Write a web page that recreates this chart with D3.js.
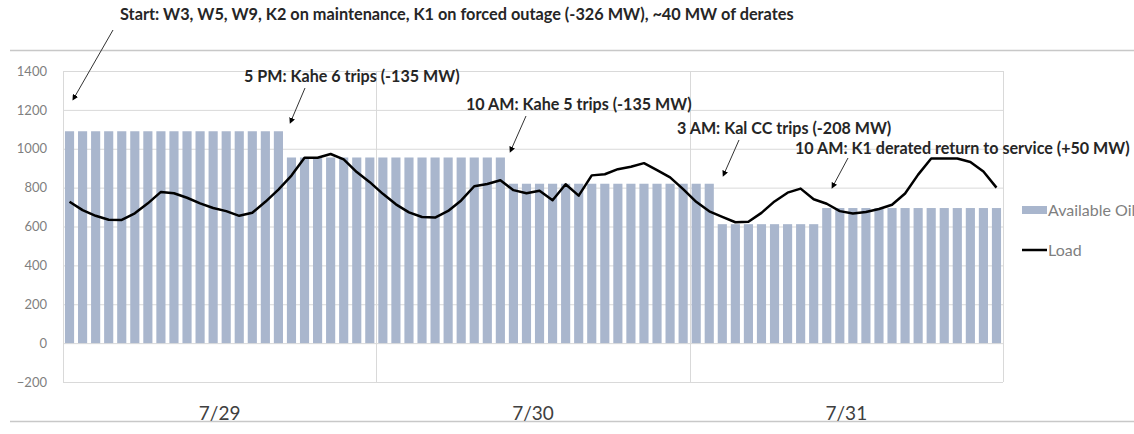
<!DOCTYPE html>
<html>
<head>
<meta charset="utf-8">
<script src="https://cdn.jsdelivr.net/npm/d3@7"></script>
<style>
  html, body { margin: 0; padding: 0; background: #fff; }
  svg { display: block; font-family: Lato, "Open Sans", sans-serif; }
</style>
</head>
<body>
<svg id="chart" width="1134" height="434"></svg>
<script>
// ---- data ----
const days = ["7/29", "7/30", "7/31"];
const hours = d3.range(72);
const availableOil = [
  1090,1090,1090,1090,1090,1090,1090,1090,1090,1090,1090,1090,1090,1090,1090,1090,1090,
  955,955,955,955,955,955,955,955,955,955,955,955,955,955,955,955,955,
  820,820,820,820,820,820,820,820,820,820,820,820,820,820,820,820,
  612,612,612,612,612,612,612,612,
  695,695,695,695,695,695,695,695,695,695,695,695,695,695
];
const load = [
  727,684,655,635,634,668,719,778,771,748,719,695,679,655,671,727,790,862,954,954,973,945,880,828,
  768,714,673,649,646,680,734,807,819,838,787,771,784,735,817,759,863,869,895,907,926,890,853,792,
  727,678,650,622,624,670,729,774,795,740,717,679,667,675,690,712,770,867,950,950,950,932,883,800
];
const yTicks = [-200, 0, 200, 400, 600, 800, 1000, 1200, 1400];
const seriesNames = ["Available Oil", "Load"];
const title = "Start: W3, W5, W9, K2 on maintenance, K1 on forced outage (-326 MW), ~40 MW of derates";
const annotations = [
  { text: "5 PM: Kahe 6 trips (-135 MW)", x: 244, y: 76, from: [305, 88], to: [291, 121] },
  { text: "10 AM: Kahe 5 trips (-135 MW)", x: 466, y: 104, from: [526, 116], to: [511, 150] },
  { text: "3 AM: Kal CC trips (-208 MW)", x: 677, y: 128, from: [739, 140], to: [724, 174] },
  { text: "10 AM: K1 derated return to service (+50 MW)", x: 795, y: 148, from: [848, 158], to: [833, 186] }
];

// ---- layout ----
const svg = d3.select("#chart");
const plot = { left: 63, right: 1003, top: 71, bottom: 382 };

const x = d3.scaleBand().domain(hours).range([plot.left, plot.right]).paddingInner(0.3).paddingOuter(0.15);
const xDay = d3.scaleBand().domain(days).range([plot.left, plot.right]);
const y = d3.scaleLinear().domain([-200, 1400]).range([plot.bottom, plot.top]);

const gridColor = "#d9d9d9";

// horizontal gridlines
svg.append("g")
  .attr("transform", `translate(${plot.left},0)`)
  .call(d3.axisLeft(y).tickValues(yTicks).tickSize(-(plot.right - plot.left)).tickFormat(""))
  .call(g => g.select(".domain").remove())
  .call(g => g.selectAll("line").attr("stroke", gridColor).attr("stroke-width", 1));

// vertical gridlines at day boundaries
svg.append("g")
  .selectAll("line")
  .data(days.concat(["end"]))
  .join("line")
  .attr("x1", (d, i) => i < days.length ? Math.round(xDay(d)) + 0.5 : plot.right + 0.5)
  .attr("x2", (d, i) => i < days.length ? Math.round(xDay(d)) + 0.5 : plot.right + 0.5)
  .attr("y1", plot.top)
  .attr("y2", plot.bottom)
  .attr("stroke", gridColor)
  .attr("stroke-width", 1);

// y tick labels
svg.append("g")
  .attr("transform", `translate(47,0)`)
  .call(d3.axisLeft(y).tickValues(yTicks).tickSize(0).tickPadding(0).tickFormat(d3.format("d")))
  .call(g => g.select(".domain").remove())
  .call(g => g.selectAll("text")
    .attr("fill", "#7f7f7f")
    .style("font-family", "Lato, sans-serif")
    .style("font-size", "13px"));

// bars
svg.append("g")
  .selectAll("rect")
  .data(hours)
  .join("rect")
  .attr("x", i => x(i))
  .attr("width", x.bandwidth())
  .attr("y", i => y(availableOil[i]))
  .attr("height", i => y(0) - y(availableOil[i]))
  .attr("fill", "#a9b6cd");

// load line
svg.append("path")
  .datum(hours)
  .attr("fill", "none")
  .attr("stroke", "#000")
  .attr("stroke-width", 2.5)
  .attr("stroke-linejoin", "round")
  .attr("d", d3.line().x(i => x(i) + x.bandwidth() / 2).y(i => y(load[i])));

// slide lines
svg.append("line").attr("x1", 10).attr("x2", 1134).attr("y1", 50.5).attr("y2", 50.5)
  .attr("stroke", "#c8c8c8").attr("stroke-width", 1.5);
svg.append("line").attr("x1", 10).attr("x2", 1134).attr("y1", 421.5).attr("y2", 421.5)
  .attr("stroke", "#c8c8c8").attr("stroke-width", 1.5);

// x day labels
svg.append("g")
  .selectAll("text")
  .data(days)
  .join("text")
  .attr("x", d => xDay(d) + xDay.bandwidth() / 2)
  .attr("y", 420)
  .attr("text-anchor", "middle")
  .attr("fill", "#404040")
  .style("font-size", "19px")
  .text(d => d);

// legend
const legend = svg.append("g").attr("transform", "translate(1022,0)");
legend.append("rect").attr("x", 0).attr("y", 206).attr("width", 25).attr("height", 8).attr("fill", "#a9b6cd");
legend.append("text").attr("x", 26).attr("y", 216).attr("fill", "#7f7f7f").style("font-size", "16px").text(seriesNames[0]);
legend.append("line").attr("x1", 0).attr("x2", 25).attr("y1", 250).attr("y2", 250).attr("stroke", "#000").attr("stroke-width", 2.5);
legend.append("text").attr("x", 26).attr("y", 256).attr("fill", "#7f7f7f").style("font-size", "16px").text(seriesNames[1]);

// arrow marker
svg.append("defs").append("marker")
  .attr("id", "arrow")
  .attr("viewBox", "0 0 10 10")
  .attr("refX", 5).attr("refY", 5)
  .attr("markerWidth", 6).attr("markerHeight", 6)
  .attr("markerUnits", "userSpaceOnUse")
  .attr("orient", "auto")
  .append("path").attr("d", "M0,0 L10,5 L0,10 z").attr("fill", "#000");

// title & annotations
svg.append("text").attr("x", 120).attr("y", 20).attr("fill", "#262626")
  .style("font-size", "16.3px").style("font-weight", "bold").text(title);
svg.append("line").attr("x1", 113).attr("y1", 30).attr("x2", 74).attr("y2", 98)
  .attr("stroke", "#333").attr("stroke-width", 1).attr("marker-end", "url(#arrow)");

annotations.forEach(a => {
  svg.append("text").attr("x", a.x).attr("y", a.y + 6).attr("fill", "#262626")
    .style("font-size", "16.1px").style("font-weight", "bold").text(a.text);
  svg.append("line").attr("x1", a.from[0]).attr("y1", a.from[1]).attr("x2", a.to[0]).attr("y2", a.to[1])
    .attr("stroke", "#333").attr("stroke-width", 1).attr("marker-end", "url(#arrow)");
});
</script>
</body>
</html>
